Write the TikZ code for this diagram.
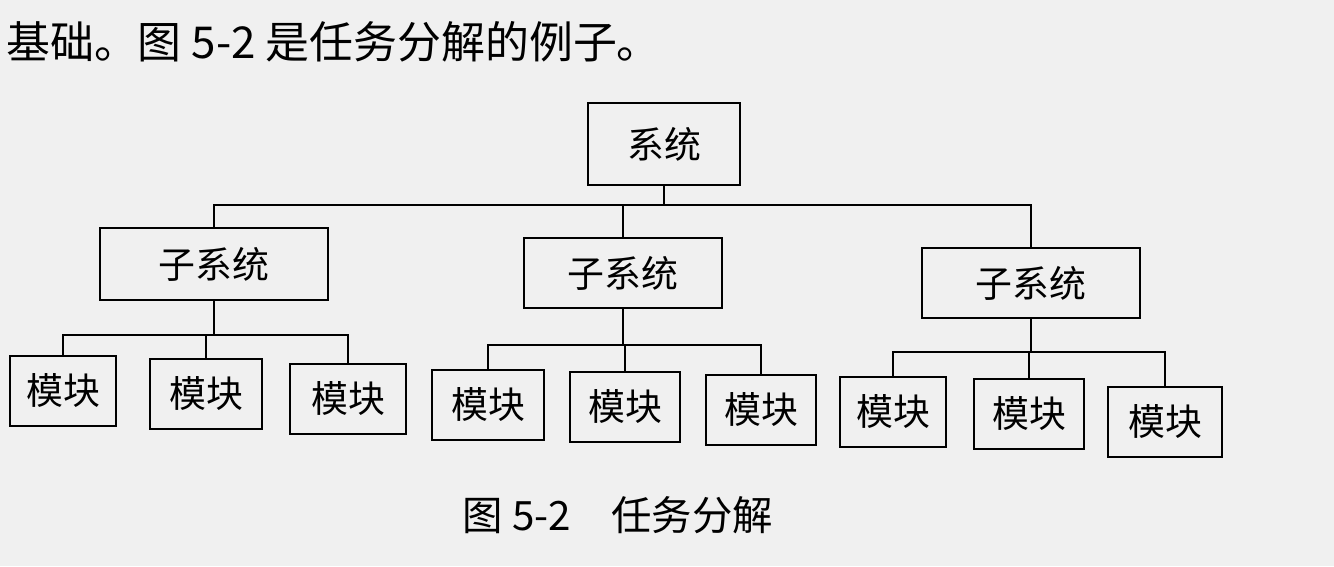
\documentclass[tikz,border=0pt]{standalone}
\usepackage{fontspec}
\newfontfamily\cjk{Noto Sans CJK SC}
\begin{document}
\begin{tikzpicture}[x=0.02cm,y=-0.02cm,
  bx/.style={draw,line width=1.2pt,inner sep=0pt,font=\cjk\fontsize{21}{21}\selectfont},
  ln/.style={line width=1.2pt}]
\fill[gray!12] (0,0) rectangle (1334,566);
\useasboundingbox (0,0) rectangle (1334,566);
\node[anchor=west,font=\cjk\fontsize{25}{25}\selectfont] (top) at (0,42) {基础。图 5-2 是任务分解的例子。};
\node[bx,minimum width=3.04cm,minimum height=1.64cm] (s) at (664,144) {系统};
\node[bx,minimum width=4.56cm,minimum height=1.44cm] (a) at (214,264) {子系统};
\node[bx,minimum width=3.96cm,minimum height=1.4cm] (b) at (623,273) {子系统};
\node[bx,minimum width=4.36cm,minimum height=1.4cm] (c) at (1031,283) {子系统};
\foreach \n/\x/\y/\w in {a1/63/391/2.12, a2/206/394/2.24, a3/348/399/2.32,
  b1/488/405/2.24, b2/625/407/2.2, b3/761/410/2.2,
  c1/893/412/2.12, c2/1029/414/2.2, c3/1165/422/2.28}
  \node[bx,minimum width=\w cm,minimum height=1.4cm] (\n) at (\x,\y) {模块};
\coordinate (j) at (664,205);
\draw[ln] (s.south) -- (j);
\foreach \t in {a,b,c} \draw[ln] (j) -| (\t.north);
\coordinate (ja) at (214,335);
\coordinate (jb) at (623,345);
\coordinate (jc) at (1031,352);
\foreach \p in {a,b,c}{
  \draw[ln] (\p.south) -- (j\p);
  \draw[ln] (j\p) -| (\p1.north);
  \draw[ln] (j\p) -| (\p3.north);
  \draw[ln] (\p2.north) -- (\p2.north |- j\p);
}
\node[font=\cjk\fontsize{23}{23}\selectfont] (cap) at (618,515) {图 5-2\quad 任务分解};
\end{tikzpicture}
\end{document}
